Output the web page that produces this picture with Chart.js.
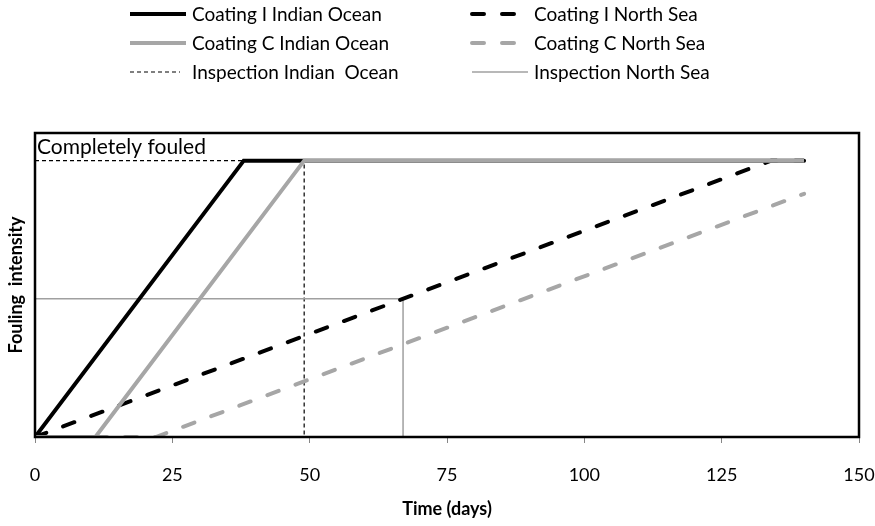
<!DOCTYPE html>
<html>
<head>
<meta charset="utf-8">
<script src="https://cdn.jsdelivr.net/npm/chart.js@4/dist/chart.umd.min.js"></script>
<style>
  html, body { margin: 0; padding: 0; background: #fff; }
  #wrap { width: 875px; height: 526px; }
</style>
</head>
<body>
<div id="wrap"><canvas id="chart" width="875" height="526"></canvas></div>
<script>
(function () {
  'use strict';

  // days / fouling intensity (1 = completely fouled)
  var coatingIIndianX = [0, 38, 140];
  var coatingIIndianY = [0, 1, 1];
  var coatingCIndianX = [0, 11, 49, 140];
  var coatingCIndianY = [0, 0, 1, 1];
  var coatingINorthX = [0, 134, 140];
  var coatingINorthY = [0, 1, 1];
  var coatingCNorthX = [0, 22, 140];
  var coatingCNorthY = [0, 0, 0.88];
  var inspIndianX = [0, 49, 49];
  var inspIndianY = [1, 1, 0];
  var inspNorthX = [0, 67, 67];
  var inspNorthY = [0.5, 0.5, 0];

  var xTicks = [0, 25, 50, 75, 100, 125, 150];

  var FONT = 'Lato';
  var gray = '#a6a6a6';

  function pts(xs, ys) {
    return xs.map(function (x, i) { return { x: x, y: ys[i] }; });
  }

  // legend slots: [column x, row y]
  var legendSlots = [[130, 14], [472, 14], [130, 43], [472, 43], [130, 72], [472, 72]];

  var legendPlugin = {
    id: 'gridLegend',
    afterDraw: function (chart) {
      var ctx = chart.ctx;
      ctx.save();
      ctx.font = '19px ' + FONT;
      ctx.textBaseline = 'middle';
      ctx.fillStyle = '#000';
      chart.data.datasets.forEach(function (ds) {
        var slot = legendSlots[ds.legendPos];
        var x = slot[0], y = slot[1];
        ctx.strokeStyle = ds.borderColor;
        ctx.lineWidth = ds.borderWidth;
        ctx.lineCap = ds.borderCapStyle || 'butt';
        ctx.setLineDash(ds.legendDash || ds.borderDash || []);
        ctx.beginPath();
        ctx.moveTo(x, y);
        ctx.lineTo(x + ds.legendLen, y);
        ctx.stroke();
        ctx.setLineDash([]);
        ctx.fillText(ds.label, x + 62, y + 1);
      });
      ctx.restore();
    }
  };

  var framePlugin = {
    id: 'frame',
    afterDraw: function (chart) {
      var a = chart.chartArea;
      var ctx = chart.ctx;
      ctx.save();
      ctx.strokeStyle = '#000';
      ctx.lineWidth = 2.5;
      ctx.strokeRect(a.left, a.top, a.right - a.left, a.bottom - a.top);
      ctx.restore();
    }
  };

  var notePlugin = {
    id: 'fouledNote',
    afterDatasetsDraw: function (chart) {
      var ctx = chart.ctx;
      var x = chart.scales.x.getPixelForValue(0) + 2;
      var y = chart.scales.y.getPixelForValue(1) - 3;
      ctx.save();
      ctx.font = '21px ' + FONT;
      ctx.fillStyle = '#000';
      ctx.textBaseline = 'bottom';
      ctx.fillText('Completely fouled', x, y);
      ctx.restore();
    }
  };

  new Chart(document.getElementById('chart').getContext('2d'), {
    type: 'line',
    data: {
      datasets: [
        {
          label: 'Coating I Indian Ocean', data: pts(coatingIIndianX, coatingIIndianY),
          borderColor: '#000', borderWidth: 4, order: 4, legendPos: 0, legendLen: 56
        },
        {
          label: 'Coating I North Sea', data: pts(coatingINorthX, coatingINorthY),
          borderColor: '#000', borderWidth: 4, borderDash: [12, 18], borderCapStyle: 'round',
          order: 3, legendPos: 1, legendLen: 42, legendDash: [12, 18]
        },
        {
          label: 'Coating C Indian Ocean', data: pts(coatingCIndianX, coatingCIndianY),
          borderColor: gray, borderWidth: 4, order: 1, legendPos: 2, legendLen: 56
        },
        {
          label: 'Coating C North Sea', data: pts(coatingCNorthX, coatingCNorthY),
          borderColor: gray, borderWidth: 4, borderDash: [12, 18], borderCapStyle: 'round',
          order: 2, legendPos: 3, legendLen: 42, legendDash: [12, 18]
        },
        {
          label: 'Inspection Indian  Ocean', data: pts(inspIndianX, inspIndianY),
          borderColor: '#000', borderWidth: 1.2, borderDash: [4, 3],
          order: 6, legendPos: 4, legendLen: 50
        },
        {
          label: 'Inspection North Sea', data: pts(inspNorthX, inspNorthY),
          borderColor: '#a0a0a0', borderWidth: 1.5,
          order: 5, legendPos: 5, legendLen: 56
        }
      ]
    },
    options: {
      responsive: false,
      animation: false,
      layout: { padding: { top: 133, right: 0, left: 0, bottom: 0 } },
      elements: {
        point: { radius: 0, hoverRadius: 0 },
        line: { tension: 0, fill: false }
      },
      plugins: {
        legend: { display: false },
        tooltip: { enabled: false }
      },
      scales: {
        x: {
          type: 'linear',
          min: 0,
          max: 150,
          afterBuildTicks: function (s) { s.ticks = xTicks.map(function (v) { return { value: v }; }); },
          afterFit: function (s) { s.height = 89; s.paddingRight = 16; s.paddingLeft = 0; },
          grid: { drawOnChartArea: false, drawTicks: true, tickLength: 6, color: '#868686', lineWidth: 1 },
          border: { display: false },
          ticks: { color: '#000', padding: 21, font: { family: FONT, size: 18 }, maxRotation: 0 },
          title: {
            display: true, text: 'Time (days)', color: '#000',
            font: { family: FONT, size: 18, weight: 'bold' }, padding: { top: 0, bottom: 6 }
          }
        },
        y: {
          min: 0,
          max: 1.1,
          afterFit: function (s) { s.width = 35; },
          grid: { display: false },
          border: { display: false },
          ticks: { display: false },
          title: {
            display: true, text: 'Fouling  intensity', color: '#000',
            font: { family: FONT, size: 18, weight: 'bold' }, padding: { top: 5, bottom: 0 }
          }
        }
      }
    },
    plugins: [legendPlugin, framePlugin, notePlugin]
  });
})();
</script>
</body>
</html>
